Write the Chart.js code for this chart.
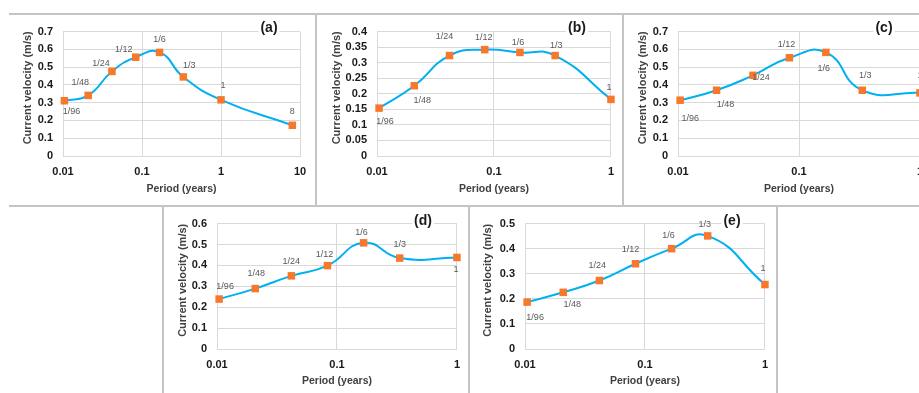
<!DOCTYPE html>
<html><head><meta charset="utf-8">
<script src="https://cdn.jsdelivr.net/npm/chart.js@4"></script>
<style>
html,body{margin:0;padding:0;background:#fff;overflow:hidden;width:919px;height:393px;}
#wrap{position:relative;width:919px;height:393px;overflow:hidden;background:#fff;}
.pc{position:absolute;}
.ln{position:absolute;background:#c4c4c4;}
</style></head><body><div id="wrap">
<div class="ln" style="left:9px;top:13px;width:910px;height:2px"></div>
<div class="ln" style="left:9px;top:205px;width:910px;height:2px"></div>
<div class="ln" style="left:315px;top:13px;width:2px;height:193px"></div>
<div class="ln" style="left:622px;top:13px;width:2px;height:193px"></div>
<div class="ln" style="left:162px;top:206px;width:2px;height:187px"></div>
<div class="ln" style="left:468px;top:206px;width:2px;height:187px"></div>
<div class="ln" style="left:776px;top:206px;width:2px;height:187px"></div>
</div>
<script>
// ---- data ----
const periodLabels = ['1/96','1/48','1/24','1/12','1/6','1/3','1','8'];
const periods = [1/96, 1/48, 1/24, 1/12, 1/6, 1/3, 1, 8];
const velocityA = [0.311, 0.341, 0.476, 0.556, 0.583, 0.445, 0.316, 0.173];
const velocityB = [0.154, 0.226, 0.323, 0.342, 0.333, 0.323, 0.182];
const velocityC = [0.314, 0.370, 0.454, 0.553, 0.583, 0.370, 0.355];
const velocityD = [0.239, 0.289, 0.350, 0.399, 0.508, 0.435, 0.438];
const velocityE = [0.187, 0.226, 0.273, 0.340, 0.400, 0.451, 0.257];
const xTicksWide = [0.01, 0.1, 1, 10];
const xTicksNarrow = [0.01, 0.1, 1];
const xTickLabelsWide = ['0.01', '0.1', '1', '10'];
const xTickLabelsNarrow = ['0.01', '0.1', '1'];
const panelTags = ['(a)', '(b)', '(c)', '(d)', '(e)'];
const xTitle = 'Period (years)';
const yTitle = 'Current velocity (m/s)';

// ---- layout / style (not data) ----
const FONT = '"Liberation Sans", Arial, sans-serif';
const panels = [
  {v: velocityA, xt: xTicksWide, xl: xTickLabelsWide, yMax: 0.7, yStep: 0.1,
   canvas: [10, 15, 316, 206], plot: [63, 26, 300, 156], yTitleX: 28, xTitleY: 189, tag: [269, 28],
   off: [[7,11],[-8,-13],[-11,-8],[-12,-8],[0,-13],[6,-11],[2,-14],[0,-14]]},
  {v: velocityB, xt: xTicksNarrow, xl: xTickLabelsNarrow, yMax: 0.4, yStep: 0.05,
   canvas: [317, 15, 623, 206], plot: [377, 26, 612, 156], yTitleX: 337, xTitleY: 189, tag: [577, 28],
   off: [[6,13],[8,15],[-5,-19],[-1,-12],[-2,-10],[1,-10],[-2,-12]]},
  {v: velocityC, xt: xTicksNarrow, xl: xTickLabelsNarrow, yMax: 0.7, yStep: 0.1,
   canvas: [624, 15, 945, 206], plot: [678, 26, 920, 156], yTitleX: 643, xTitleY: 189, tag: [884, 28],
   off: [[10,18],[9,14],[8,2],[-3,-13],[-2,16],[3,-15],[0,-17]]},
  {v: velocityD, xt: xTicksNarrow, xl: xTickLabelsNarrow, yMax: 0.6, yStep: 0.1,
   canvas: [164, 207, 469, 393], plot: [217, 218, 458, 349], yTitleX: 183, xTitleY: 381, tag: [423, 221],
   off: [[6,-13],[1,-15],[0,-14],[-3,-11],[-2,-10],[0,-14],[-1,12]]},
  {v: velocityE, xt: xTicksNarrow, xl: xTickLabelsNarrow, yMax: 0.5, yStep: 0.1,
   canvas: [470, 207, 777, 393], plot: [525, 218, 766, 349], yTitleX: 488, xTitleY: 381, tag: [732, 221],
   off: [[8,15],[9,12],[-2,-15],[-5,-14],[-3,-13],[-3,-11],[-2,-16]]}
];

const wrap = document.getElementById('wrap');

panels.forEach((p, pi) => {
  const [cl, ct, cr, cb] = p.canvas;
  const [pl, pt, pr, pb] = p.plot;
  const w = cr - cl, h = cb - ct;
  const div = document.createElement('div');
  div.className = 'pc';
  div.style.left = cl + 'px'; div.style.top = ct + 'px';
  div.style.width = w + 'px'; div.style.height = h + 'px';
  const cv = document.createElement('canvas');
  cv.width = w; cv.height = h;
  cv.style.width = w + 'px'; cv.style.height = h + 'px';
  div.appendChild(cv);
  wrap.appendChild(div);

  const yW = pl - cl, xH = cb - pb, padTop = pt - ct, padRight = cr - pr;
  const labels = periodLabels.slice(0, p.v.length);

  const textPlugin = {
    id: 'panelText' + pi,
    afterDatasetsDraw(chart) {
      const ctx = chart.ctx, ca = chart.chartArea;
      ctx.save();
      ctx.font = '9px ' + FONT;
      ctx.fillStyle = '#595959';
      ctx.textAlign = 'center';
      ctx.textBaseline = 'middle';
      const meta = chart.getDatasetMeta(0);
      meta.data.forEach((el, i) => {
        const o = p.off[i];
        ctx.fillText(labels[i], el.x + o[0], el.y + o[1]);
      });
      ctx.font = 'bold 10.5px ' + FONT;
      ctx.fillStyle = '#404040';
      ctx.fillText(xTitle, (ca.left + ca.right) / 2, p.xTitleY - ct);
      ctx.save();
      ctx.translate(p.yTitleX - cl, (ca.top + ca.bottom) / 2 - 6);
      ctx.rotate(-Math.PI / 2);
      ctx.font = 'bold 11px ' + FONT;
      ctx.fillText(yTitle, 0, 0);
      ctx.restore();
      ctx.font = 'bold 14px ' + FONT;
      const tw = ctx.measureText(panelTags[pi]).width;
      ctx.fillStyle = '#ffffff';
      ctx.fillRect(p.tag[0] - cl - tw / 2 - 2, p.tag[1] - ct - 8, tw + 4, 16);
      ctx.fillStyle = '#1a1a1a';
      ctx.fillText(panelTags[pi], p.tag[0] - cl, p.tag[1] - ct);
      ctx.restore();
    }
  };

  new Chart(cv, {
    type: 'scatter',
    data: {
      datasets: [{
        data: periods.slice(0, p.v.length).map((x, i) => ({x: x, y: p.v[i]})),
        showLine: true,
        clip: false,
        borderColor: '#00b0f0',
        borderWidth: 2,
        tension: 0.5,
        pointStyle: 'rect',
        pointRadius: 5.3,
        pointBackgroundColor: '#f7772b',
        pointBorderColor: '#f7772b',
        pointBorderWidth: 0
      }]
    },
    options: {
      responsive: false,
      animation: false,
      maintainAspectRatio: false,
      layout: {padding: {top: padTop, right: padRight, left: 0, bottom: 0}},
      plugins: {legend: {display: false}, tooltip: {enabled: false}},
      scales: {
        x: {
          type: 'logarithmic',
          min: p.xt[0],
          max: p.xt[p.xt.length - 1],
          afterBuildTicks: s => { s.ticks = p.xt.map(v => ({value: v})); },
          afterFit: s => { s.height = xH; },
          ticks: {
            autoSkip: false, maxRotation: 0, minRotation: 0, padding: 9,
            color: '#1a1a1a', font: {family: FONT, size: 11, weight: 'bold'},
            callback: (v, i) => p.xl[i]
          },
          grid: {color: '#d9d9d9', drawTicks: false, lineWidth: 1},
          border: {color: '#d9d9d9'}
        },
        y: {
          min: 0,
          max: p.yMax,
          afterFit: s => { s.width = yW; },
          ticks: {
            stepSize: p.yStep, padding: 10, autoSkip: false,
            color: '#1a1a1a', font: {family: FONT, size: 11, weight: 'bold'},
            callback: v => String(Number(v.toFixed(2)))
          },
          grid: {color: '#d9d9d9', drawTicks: false, lineWidth: 1},
          border: {color: '#d9d9d9'}
        }
      }
    },
    plugins: [textPlugin]
  });
});
</script>
</body></html>
